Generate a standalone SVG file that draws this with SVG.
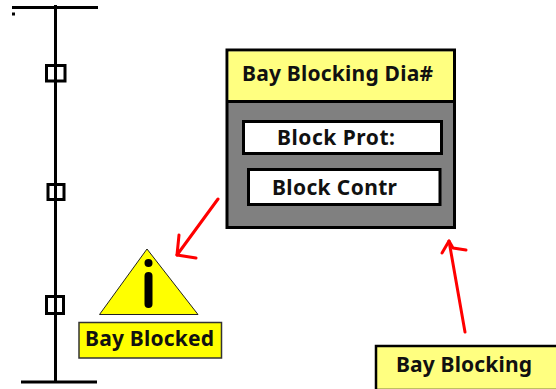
<svg xmlns="http://www.w3.org/2000/svg" width="556" height="389" viewBox="0 0 556 389">
<style>
.l{stroke:#000;stroke-width:3;fill:none}
.s{stroke:#000;stroke-width:3;fill:#fff}
.sw{stroke:#000;stroke-width:3;fill:none}
.r{stroke:#ff0000;stroke-width:3;fill:none;stroke-linecap:round;stroke-linejoin:round}
text{font-family:"Noto Sans","Open Sans","DejaVu Sans",sans-serif;font-weight:700;fill:#111;font-size:21px}
</style>
<rect width="556" height="389" fill="#fff"/>
<g id="busbar">
<line class="l" x1="12" y1="7.500" x2="98" y2="7.500"/>
<line class="l" x1="21" y1="382" x2="97" y2="382"/>
<rect x="12" y="12.500" width="3" height="3" fill="#000"/>
<line class="l" x1="55.500" y1="5" x2="55.500" y2="382"/>
</g>
<g id="switch1"><rect class="sw" x="46.500" y="65.500" width="18.500" height="15.500"/></g>
<g id="switch2"><rect class="sw" x="48" y="184.500" width="16" height="15"/></g>
<g id="switch3"><rect class="sw" x="46.500" y="296.500" width="17" height="17"/></g>
<g id="warning">
<polygon points="147,249 99.500,314.500 198,314.500" fill="#ffff00" stroke="#222" stroke-width="1"/>
<circle cx="148.500" cy="263" r="4" fill="#000"/>
<line x1="148.500" y1="276" x2="148.500" y2="304" stroke="#000" stroke-width="8" stroke-linecap="round"/>
</g>
<g id="bay-blocked">
<rect x="79" y="322.500" width="142.500" height="35.500" fill="#ffff00" stroke="#333" stroke-width="1.500"/>
<text x="85" y="345.500" textLength="129">Bay Blocked</text>
</g>
<g id="dialog">
<rect x="227" y="50" width="227.500" height="177.500" fill="#808080" stroke="#000" stroke-width="3"/>
<rect x="228.500" y="51.500" width="224.500" height="50" fill="#ffff80"/>
<line class="l" x1="227" y1="101.500" x2="454" y2="101.500"/>
<text x="242" y="80.500" textLength="191">Bay Blocking Dia#</text>
</g>
<g id="block-prot">
<rect class="s" x="243.500" y="121.500" width="198" height="32"/>
<text x="277" y="145" textLength="118">Block Prot:</text>
</g>
<g id="block-contr">
<rect class="s" x="248.500" y="169.500" width="191.500" height="35"/>
<text x="272" y="195" textLength="125">Block Contr</text>
</g>
<g id="bay-blocking">
<rect x="376" y="346" width="182" height="44" fill="#ffff80" stroke="#000" stroke-width="2.500"/>
<text x="396" y="372" textLength="136">Bay Blocking</text>
</g>
<g id="connectors">
<polyline class="r" points="218,199 177,255"/>
<polyline class="r" points="179,235 177,255 196,258"/>
<polyline class="r" points="465,332 449,241"/>
<polyline class="r" points="442,253 449,241 453,248 466,250"/>
</g>
</svg>
